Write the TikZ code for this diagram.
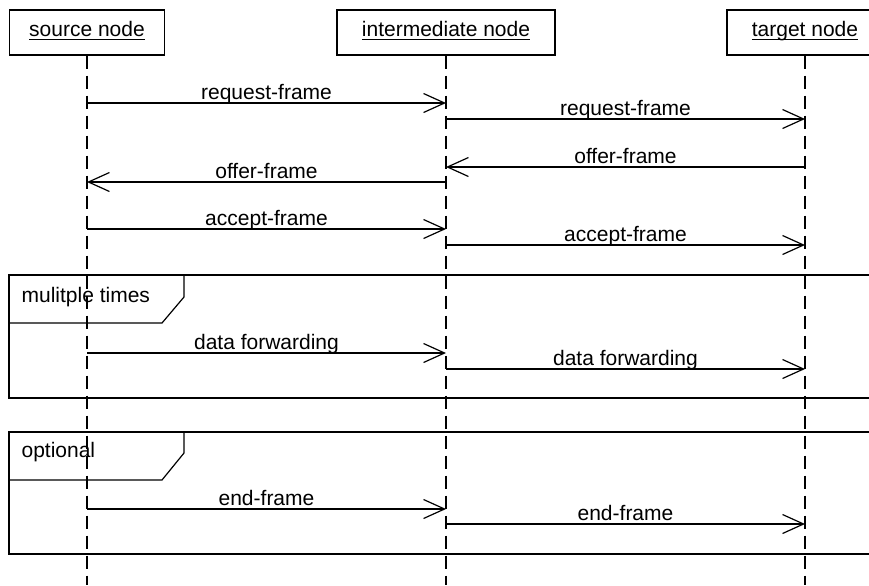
\documentclass[tikz,border=0pt]{standalone}
\usepackage{fontspec}
\setmainfont{Liberation Sans}
\usetikzlibrary{arrows.meta}
\newcommand{\uname}[1]{\underline{\smash{#1}}}
\tikzset{
  actor/.style={draw,minimum height=22.5pt,inner sep=0pt,text height=0.72em,text depth=0.28em},
  lifeline/.style={dash pattern=on 6.5pt off 3.5pt},
  msg/.style={-{Straight Barb[length=10.5pt,width=9.5pt]}},
  msglabel/.style={midway,anchor=base,yshift=2pt},
  framelabel/.style={anchor=base west,inner sep=0pt},
}
\begin{document}
\begin{tikzpicture}[x=0.5pt,y=-0.5pt,line width=0.6pt,font=\fontsize{10.5}{12}\selectfont]
\useasboundingbox (0,0) rectangle (869,585);
\clip (0,0) rectangle (869,585);
\pgfmathsetmacro{\xs}{87}
\pgfmathsetmacro{\xi}{446}
\pgfmathsetmacro{\xt}{805}
% participants
\node[actor,minimum width=77.5pt] (src) at (\xs,32.5) {\uname{source node}};
\node[actor,minimum width=109pt] (mid) at (\xi,32.5) {\uname{intermediate node}};
\node[actor,minimum width=78pt] (tgt) at (\xt,32.5) {\uname{target node}};
% frames
\draw (9,275) rectangle (890,398);
\draw (184,275) -- (184,297) -- (162,323) -- (9,323);
\node[framelabel] (loop) at (21,302) {mulitple times};
\draw (9,432) rectangle (890,554);
\draw (184,432) -- (184,453) -- (162,480) -- (9,480);
\node[framelabel] (opt) at (21,457) {optional};
% lifelines
\coordinate (srcend) at (\xs,585);
\coordinate (midend) at (\xi,585);
\coordinate (tgtend) at (\xt,585);
\draw[lifeline] (src.south) -- (srcend);
\draw[lifeline] (mid.south) -- (midend);
\draw[lifeline] (tgt.south) -- (tgtend);
% messages
\coordinate (s1) at (\xs,103); \coordinate (m1) at (\xi,103);
\coordinate (m2) at (\xi,119); \coordinate (t2) at (\xt,119);
\coordinate (t3) at (\xt,167); \coordinate (m3) at (\xi,167);
\coordinate (m4) at (\xi,182); \coordinate (s4) at (\xs,182);
\coordinate (s5) at (\xs,229); \coordinate (m5) at (\xi,229);
\coordinate (m6) at (\xi,245); \coordinate (t6) at (\xt,245);
\coordinate (s7) at (\xs,353); \coordinate (m7) at (\xi,353);
\coordinate (m8) at (\xi,369); \coordinate (t8) at (\xt,369);
\coordinate (s9) at (\xs,509); \coordinate (m9) at (\xi,509);
\coordinate (m10) at (\xi,524); \coordinate (t10) at (\xt,524);
\draw[msg] (s1) -- (m1) node[msglabel] {request-frame};
\draw[msg] (m2) -- (t2) node[msglabel] {request-frame};
\draw[msg] (t3) -- (m3) node[msglabel] {offer-frame};
\draw[msg] (m4) -- (s4) node[msglabel] {offer-frame};
\draw[msg] (s5) -- (m5) node[msglabel] {accept-frame};
\draw[msg] (m6) -- (t6) node[msglabel] {accept-frame};
\draw[msg] (s7) -- (m7) node[msglabel] {data forwarding};
\draw[msg] (m8) -- (t8) node[msglabel] {data forwarding};
\draw[msg] (s9) -- (m9) node[msglabel] {end-frame};
\draw[msg] (m10) -- (t10) node[msglabel] {end-frame};
\end{tikzpicture}
\end{document}
